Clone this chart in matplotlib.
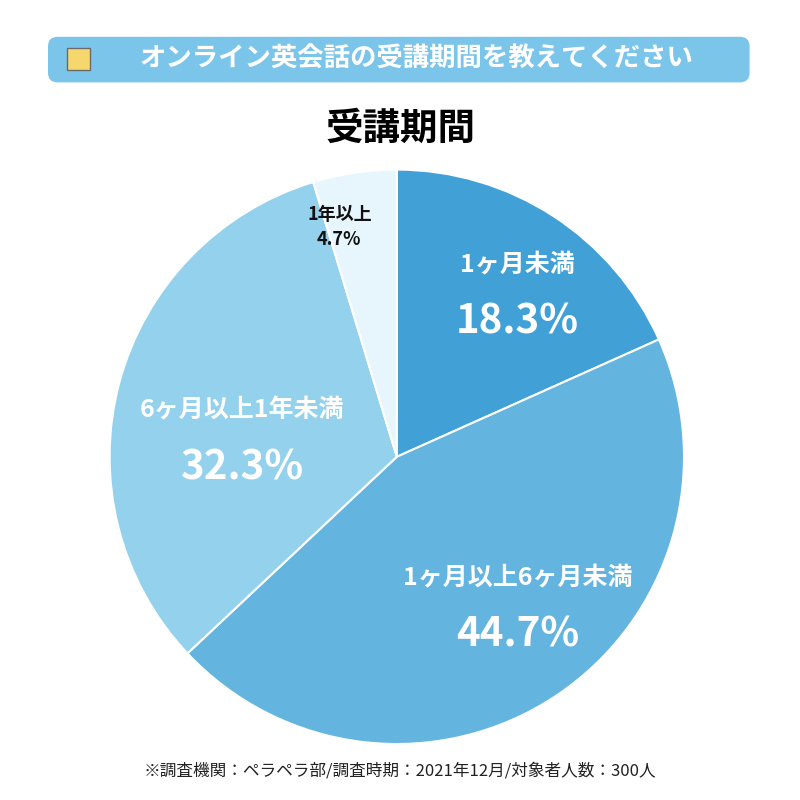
import matplotlib.pyplot as plt
from matplotlib.patches import FancyBboxPatch, Rectangle

plt.rcParams["font.family"] = "Noto Sans CJK JP"

labels = ["1ヶ月未満", "1ヶ月以上6ヶ月未満", "6ヶ月以上1年未満", "1年以上"]
values = [18.3, 44.7, 32.3, 4.7]
colors = ["#41a1d7", "#64b4e0", "#93d1ed", "#e7f6fd"]

fig = plt.figure(figsize=(8, 8), dpi=100)
fig.patch.set_facecolor("white")

# header banner
banner = FancyBboxPatch((0.06, 0.897), 0.877, 0.057, boxstyle="round,pad=0,rounding_size=0.012",
                        transform=fig.transFigure, facecolor="#7cc5ea", edgecolor="none")
fig.patches.append(banner)
fig.text(0.52, 0.926, "オンライン英会話の受講期間を教えてください", ha="center", va="center",
         fontsize=19, color="white", fontweight="bold")
# small calendar icon
fig.patches.append(Rectangle((0.084, 0.912), 0.028, 0.028, transform=fig.transFigure,
                             facecolor="#f5d76e", edgecolor="#6a6a6a", linewidth=1))
fig.text(0.5, 0.84, "受講期間", ha="center", va="center", fontsize=27, fontweight="bold")
fig.text(0.5, 0.036, "※調査機関：ペラペラ部/調査時期：2021年12月/対象者人数：300人",
         ha="center", va="center", fontsize=12, color="#222222")

ax = fig.add_axes([0.137, 0.07, 0.718, 0.718])
ax.pie(values, colors=colors, startangle=90, counterclock=False,
       wedgeprops=dict(edgecolor="white", linewidth=1.5))
ax.set_xlim(-1, 1)
ax.set_ylim(-1, 1)
ax.set_aspect("equal")

# label positions (axes data units, radius 1)
pos = [(0.42, 0.57), (0.42, -0.52), (-0.54, 0.06), (-0.2, 0.80)]
for (x, y), lab, v, i in zip(pos, labels, values, range(4)):
    if i == 3:
        ax.text(x, y, f"{lab}\n{v}%", ha="center", va="center", fontsize=13,
                fontweight="bold", color="#111111", linespacing=1.4)
    else:
        ax.text(x, y + 0.1, lab, ha="center", va="center", fontsize=18,
                fontweight="bold", color="white")
        ax.text(x, y - 0.1, f"{v}%", ha="center", va="center", fontsize=29,
                fontweight="bold", color="white")

fig.savefig("out.png", dpi=100)
